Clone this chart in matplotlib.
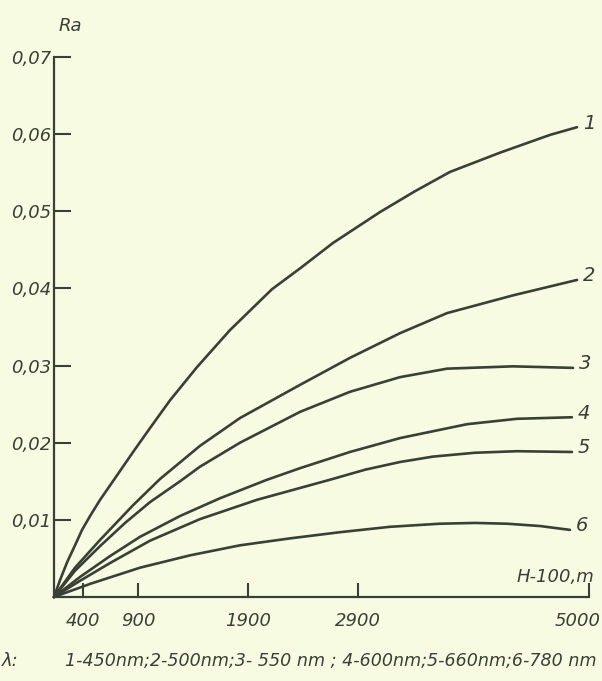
#!/usr/bin/env python
"""
plot.py - Ra vs altitude H for six wavelengths (re-drawn from a scanned figure)

Curves 1-6 are read off the scan by eye; the horizontal scale of the
original starts a little above H = 0, so the first point sits at the corner.
"""

import matplotlib.pyplot as plt
from matplotlib.transforms import offset_copy

# ---- data -----------------------------------------------------------------
curve_ids = ["1", "2", "3", "4", "5", "6"]

h_1 = [136, 191, 255, 327, 391, 464, 555, 691, 855, 1009, 1191, 1436, 1736,
       2118, 2373, 2673, 3100, 3418, 3736, 4191, 4645, 4891]
ra_1 = [0.0, 0.0022, 0.0045, 0.0067, 0.0087, 0.0105, 0.0126, 0.0154, 0.0188,
        0.0219, 0.0255, 0.0298, 0.0346, 0.0399, 0.0426, 0.0459, 0.0499, 0.0526,
        0.0551, 0.0576, 0.0599, 0.0609]

h_2 = [136, 327, 555, 855, 1100, 1464, 1827, 2373, 2827, 3282, 3709, 4309, 4891]
ra_2 = [0.0, 0.0038, 0.0074, 0.0119, 0.0153, 0.0196, 0.0232, 0.0275, 0.0310,
        0.0342, 0.0368, 0.0391, 0.0411]

h_3 = [136, 327, 555, 782, 1009, 1282, 1464, 1827, 2373, 2827, 3282, 3709,
       4309, 4855]
ra_3 = [0.0, 0.0034, 0.0066, 0.0096, 0.0123, 0.0150, 0.0169, 0.0200, 0.0240,
        0.0266, 0.0285, 0.0296, 0.0299, 0.0297]

h_4 = [136, 373, 645, 918, 1282, 1645, 2073, 2373, 2827, 3282, 3891, 4345, 4845]
ra_4 = [0.0, 0.0026, 0.0053, 0.0078, 0.0105, 0.0128, 0.0152, 0.0167, 0.0188,
        0.0206, 0.0224, 0.0231, 0.0233]

h_5 = [136, 373, 645, 1009, 1464, 1982, 2645, 2964, 3282, 3582, 3964, 4345,
       4845]
ra_5 = [0.0, 0.0021, 0.0044, 0.0073, 0.0101, 0.0126, 0.0152, 0.0165, 0.0175,
        0.0182, 0.0187, 0.0189, 0.0188]

h_6 = [136, 464, 918, 1373, 1827, 2282, 2736, 3191, 3645, 3964, 4255, 4555, 4827]
ra_6 = [0.0, 0.0017, 0.0038, 0.0054, 0.0067, 0.0076, 0.0084, 0.0091, 0.0095,
        0.0096, 0.0095, 0.0092, 0.0087]

x_ticks = [400, 900, 1900, 2900, 5000]
y_ticks = [0.01, 0.02, 0.03, 0.04, 0.05, 0.06, 0.07]
y_tick_labels = ["0,01", "0,02", "0,03", "0,04", "0,05", "0,06", "0,07"]

legend_text = "1-450nm;2-500nm;3- 550 nm ; 4-600nm;5-660nm;6-780 nm"

# ---- style ----------------------------------------------------------------
PAPER = "#f7fbe2"
INK = "#3b4036"
FONT = ["DejaVu Sans Condensed", "Liberation Sans Narrow", "DejaVu Sans"]


def main() -> None:
    plt.rcParams["font.family"] = FONT
    plt.rcParams["font.style"] = "italic"

    fig = plt.figure(figsize=(6.02, 6.81), dpi=100, facecolor=PAPER)
    ax = fig.add_axes([54 / 602, 84 / 681, 535 / 602, 540 / 681])
    ax.set_facecolor(PAPER)

    curves = [(h_1, ra_1), (h_2, ra_2), (h_3, ra_3),
              (h_4, ra_4), (h_5, ra_5), (h_6, ra_6)]
    for cid, (hh, rr) in zip(curve_ids, curves):
        ax.plot(hh, rr, color=INK, linewidth=1.9, solid_capstyle="round",
                solid_joinstyle="round", clip_on=False)
        ax.annotate(cid, xy=(hh[-1], rr[-1]), xytext=(4, 3),
                    textcoords="offset points", ha="left", va="center",
                    fontsize=14, color=INK, annotation_clip=False)

    ax.set_xlim(136, 5000)
    ax.set_ylim(0, 0.07)

    for side in ("top", "right"):
        ax.spines[side].set_visible(False)
    for side in ("left", "bottom"):
        ax.spines[side].set_color(INK)
        ax.spines[side].set_linewidth(1.6)

    ax.set_yticks(y_ticks)
    ax.set_yticklabels(y_tick_labels)
    ax.tick_params(axis="y", direction="in", length=12, width=1.5,
                   color=INK, labelcolor=INK, labelsize=13, pad=2)

    # x tick labels drawn by hand so 5000 can sit a bit left of its tick
    ax.set_xticks(x_ticks)
    ax.set_xticklabels([])
    ax.tick_params(axis="x", direction="in", length=10, width=1.5, color=INK)
    for t in x_ticks:
        dx = -8 if t == x_ticks[-1] else 0
        ax.annotate(str(t), xy=(t, 0), xytext=(dx, -17),
                    textcoords="offset points", ha="center", va="center",
                    fontsize=13, color=INK, annotation_clip=False)

    ax.text(0.0, 1.0, "Ra", transform=offset_copy(ax.transAxes, fig=fig,
            x=16, y=31, units="dots"), ha="center", va="center",
            fontsize=13, color=INK)
    ax.text(5000, 0.0, "H-100,m", transform=offset_copy(ax.transData, fig=fig,
            x=-34, y=20, units="dots"), ha="center", va="center",
            fontsize=13, color=INK)

    fig.text(2 / 602, 1 - 661 / 681, "λ:", ha="left", va="center",
             fontsize=13, color=INK)
    fig.text(65 / 602, 1 - 661 / 681, legend_text, ha="left", va="center",
             fontsize=12.6, color=INK)

    fig.savefig("out.png", dpi=100, facecolor=PAPER)


if __name__ == "__main__":
    main()
